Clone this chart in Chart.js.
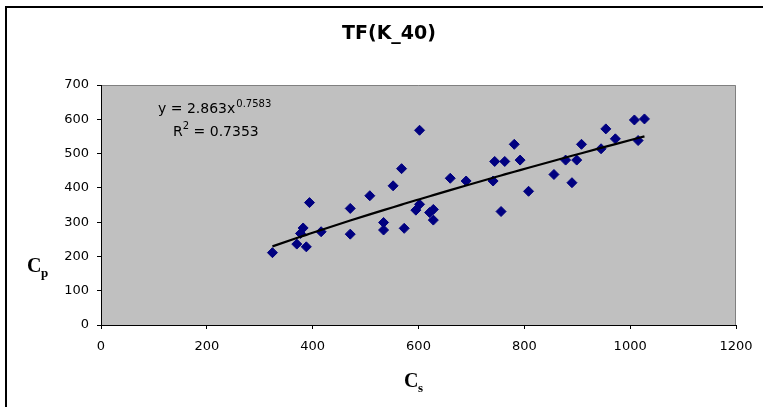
<!DOCTYPE html>
<html>
<head>
<meta charset="utf-8">
<script src="https://cdn.jsdelivr.net/npm/chart.js@4/dist/chart.umd.min.js"></script>
<style>
  html, body { margin: 0; padding: 0; background: #fff; }
  #wrap { position: relative; width: 763px; height: 407px; }
  canvas { display: block; }
</style>
</head>
<body>
<div id="wrap"><canvas id="c" width="763" height="407"></canvas></div>
<script>
// ---- data ----
const chartTitle = "TF(K_40)";
const csValues = [324, 370, 377, 382, 388, 394, 416, 471, 471, 508, 534, 534, 552, 568, 573, 602, 595, 602, 621, 628, 628, 660, 690, 741, 744, 763, 756, 781, 792, 808, 856, 878, 899, 890, 908, 945, 954, 972, 1008, 1015, 1027];
const cpValues = [211, 236, 267, 283, 228, 357, 272, 340, 265, 377, 299, 277, 406, 456, 282, 568, 335, 352, 328, 337, 306, 428, 420, 420, 477, 477, 331, 527, 481, 390, 439, 481, 481, 415, 527, 514, 572, 543, 598, 538, 601];
const xTicks = [0, 200, 400, 600, 800, 1000, 1200];
const yTicks = [0, 100, 200, 300, 400, 500, 600, 700];
// power trendline reported on the chart: y = a * x^b
const trendA = 2.863;
const trendB = 0.7583;
const trendR2 = "0.7353";

const points = csValues.map((x, i) => ({ x: x, y: cpValues[i] }));
const sortedX = csValues.slice().sort((a, b) => a - b);
const trend = sortedX.map(x => ({ x: x, y: trendA * Math.pow(x, trendB) }));

const TICK_FONT = { family: "'DejaVu Sans', sans-serif", size: 13 };

const decor = {
  id: 'decor',
  beforeDraw(chart) {
    const { ctx, chartArea: a } = chart;
    ctx.save();
    ctx.fillStyle = '#fff';
    ctx.fillRect(0, 0, chart.width, chart.height);
    ctx.fillStyle = '#C0C0C0';
    ctx.fillRect(a.left, a.top, a.right - a.left, a.bottom - a.top);
    ctx.strokeStyle = '#808080';
    ctx.lineWidth = 1;
    ctx.beginPath();
    ctx.moveTo(a.left, a.top + 0.5);
    ctx.lineTo(a.right - 0.5, a.top + 0.5);
    ctx.lineTo(a.right - 0.5, a.bottom);
    ctx.stroke();
    // outer chart border (top and left visible)
    ctx.strokeStyle = '#000';
    ctx.lineWidth = 2;
    ctx.beginPath();
    ctx.moveTo(6, chart.height + 2);
    ctx.lineTo(6, 7);
    ctx.lineTo(chart.width + 2, 7);
    ctx.stroke();
    ctx.restore();
  },
  afterDraw(chart) {
    const { ctx } = chart;
    ctx.save();
    ctx.fillStyle = '#000';
    ctx.textBaseline = 'alphabetic';
    // title
    ctx.font = "bold 19px 'DejaVu Sans', sans-serif";
    ctx.textAlign = 'center';
    ctx.fillText(chartTitle, 389, 39);
    // equation
    ctx.textAlign = 'left';
    ctx.font = "14px 'DejaVu Sans', sans-serif";
    const eq1 = "y = " + trendA + "x";
    ctx.fillText(eq1, 158, 113);
    const w1 = ctx.measureText(eq1).width;
    ctx.font = "10px 'DejaVu Sans', sans-serif";
    ctx.fillText(String(trendB), 158 + w1 + 1, 107);
    ctx.font = "14px 'DejaVu Sans', sans-serif";
    ctx.fillText("R", 173, 136);
    const wr = ctx.measureText("R").width;
    ctx.font = "10px 'DejaVu Sans', sans-serif";
    ctx.fillText("2", 173 + wr, 129);
    const w2 = ctx.measureText("2").width;
    ctx.font = "14px 'DejaVu Sans', sans-serif";
    ctx.fillText(" = " + trendR2, 173 + wr + w2, 136);
    // axis titles
    ctx.font = "bold 20px 'Liberation Serif', serif";
    ctx.fillText("C", 404, 387);
    ctx.font = "bold 13px 'Liberation Serif', serif";
    ctx.fillText("s", 418, 392);
    ctx.font = "bold 20px 'Liberation Serif', serif";
    ctx.fillText("C", 27, 272);
    ctx.font = "bold 13px 'Liberation Serif', serif";
    ctx.fillText("p", 41, 277);
    ctx.restore();
  }
};

new Chart(document.getElementById('c'), {
  type: 'scatter',
  data: {
    datasets: [
      {
        type: 'line',
        data: trend,
        borderColor: '#000',
        borderWidth: 2.2,
        pointRadius: 0,
        fill: false,
        tension: 0,
        order: 0
      },
      {
        data: points,
        pointStyle: 'rectRot',
        pointRadius: 5,
        pointHoverRadius: 5,
        backgroundColor: '#000080',
        borderColor: '#000080',
        borderWidth: 1,
        order: 1
      }
    ]
  },
  options: {
    responsive: false,
    animation: false,
    devicePixelRatio: 1,
    layout: { padding: { left: 0, top: 85, right: 27, bottom: 52 } },
    plugins: { legend: { display: false }, tooltip: { enabled: false }, title: { display: false } },
    scales: {
      x: {
        type: 'linear',
        min: 0, max: 1200,
        afterBuildTicks(s) { s.ticks = xTicks.map(v => ({ value: v })); },
        afterFit(s) { s.height = 30; },
        ticks: { color: '#000', font: TICK_FONT, padding: 10, maxRotation: 0, callback: v => String(v) },
        grid: { drawOnChartArea: false, drawTicks: true, tickLength: 4, color: '#000' },
        border: { color: '#000', width: 1 }
      },
      y: {
        type: 'linear',
        min: 0, max: 700,
        afterBuildTicks(s) { s.ticks = yTicks.map(v => ({ value: v })); },
        afterFit(s) { s.width = 101; },
        ticks: { color: '#000', font: TICK_FONT, padding: 8, callback: v => String(v) },
        grid: { drawOnChartArea: false, drawTicks: true, tickLength: 4, color: '#000' },
        border: { color: '#000', width: 1 }
      }
    }
  },
  plugins: [decor]
});
</script>
</body>
</html>
